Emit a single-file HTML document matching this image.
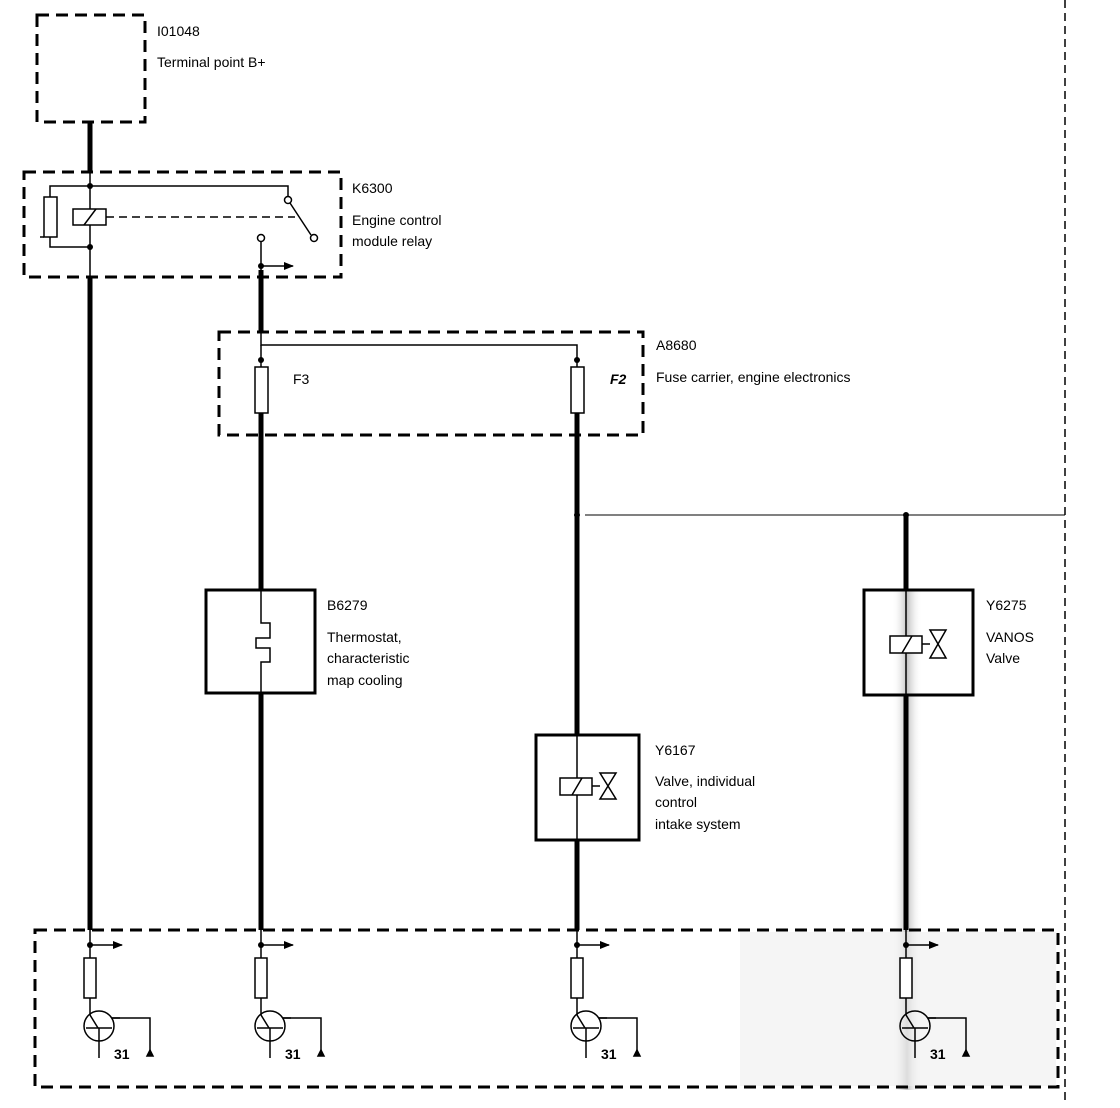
<!DOCTYPE html>
<html><head><meta charset="utf-8"><style>
body{margin:0;background:#fff}
svg{display:block}
text{font-family:"Liberation Sans",sans-serif;font-size:14px;fill:#000}
</style></head><body>
<svg width="1120" height="1108" viewBox="0 0 1120 1108" xmlns="http://www.w3.org/2000/svg">
<defs>
<marker id="ar" markerWidth="10" markerHeight="8" refX="9" refY="4" orient="auto" markerUnits="userSpaceOnUse"><path d="M0,0 L10,4 L0,8 Z" fill="#000"/></marker>
<linearGradient id="g" x1="0" x2="1"><stop offset="0" stop-color="#fff" stop-opacity="0"/><stop offset="0.5" stop-color="#999"/><stop offset="1" stop-color="#fff" stop-opacity="0"/></linearGradient>
</defs>
<rect x="892" y="590" width="30" height="500" fill="url(#g)" opacity="0.6"/>
<rect x="740" y="932" width="316" height="154" fill="#eee" opacity="0.6"/>
<g fill="none" stroke="#000" stroke-width="3" stroke-dasharray="12,7">
<rect x="37" y="15" width="108" height="107"/>
<rect x="24" y="172" width="317" height="105"/>
<rect x="219" y="332" width="424" height="103"/>
<rect x="35" y="930" width="1023" height="157"/>
</g>
<line x1="1065" y1="0" x2="1065" y2="1100" stroke="#000" stroke-width="1.5" stroke-dasharray="8,5"/>
<line x1="585" y1="515" x2="1065" y2="515" stroke="#000" stroke-width="1"/>
<!-- thick wires -->
<g stroke="#000" stroke-width="5">
<line x1="90" y1="122" x2="90" y2="172"/>
<line x1="90" y1="277" x2="90" y2="930"/>
<line x1="261" y1="270" x2="261" y2="332"/>
<line x1="261" y1="413" x2="261" y2="590"/>
<line x1="261" y1="693" x2="261" y2="930"/>
<line x1="577" y1="413" x2="577" y2="735"/>
<line x1="577" y1="840" x2="577" y2="930"/>
<line x1="906" y1="515" x2="906" y2="590"/>
<line x1="906" y1="695" x2="906" y2="930"/>
</g>
<g stroke="#000" stroke-width="1.5" fill="none">
<line x1="90" y1="172" x2="90" y2="277"/>
<polyline points="50,197 50,186 288,186 288,196"/>
<rect x="44" y="197" width="13" height="40" fill="#fff"/>
<polyline points="50,237 50,247 90,247"/>
<line x1="40" y1="237" x2="44" y2="237"/>
<rect x="73" y="209" width="33" height="16" fill="#fff"/>
<line x1="84" y1="225" x2="96" y2="209"/>
<line x1="106" y1="217" x2="295" y2="217" stroke-dasharray="8,5"/>
<line x1="290" y1="203" x2="311" y2="235"/>
<circle cx="288" cy="200" r="3.5" fill="#fff"/>
<circle cx="314" cy="238" r="3.5" fill="#fff"/>
<line x1="261" y1="242" x2="261" y2="277"/>
<circle cx="261" cy="238" r="3.5" fill="#fff"/>
<line x1="261" y1="266" x2="293" y2="266" marker-end="url(#ar)"/>
<polyline points="261,332 261,345 577,345 577,367"/>
<line x1="261" y1="345" x2="261" y2="367"/>
<rect x="255" y="367" width="13" height="46" fill="#fff"/>
<rect x="571" y="367" width="13" height="46" fill="#fff"/>
<rect x="206" y="590" width="109" height="103" stroke-width="3"/>
<polyline points="261,590 261,623 270,623 270,638 256,638 256,648 270,648 270,662 261,662 261,693"/>
<rect x="864" y="590" width="109" height="105" stroke-width="3"/>
<line x1="906" y1="590" x2="906" y2="695"/>
<rect x="890" y="636" width="32" height="17" fill="#fff"/>
<line x1="902" y1="653" x2="912" y2="636"/>
<line x1="922" y1="644" x2="930" y2="644"/>
<path d="M930,630 L946,630 L930,658 L946,658 Z"/>
<rect x="536" y="735" width="103" height="105" stroke-width="3"/>
<line x1="577" y1="735" x2="577" y2="840"/>
<rect x="560" y="778" width="32" height="17" fill="#fff"/>
<line x1="572" y1="795" x2="582" y2="778"/>
<line x1="592" y1="786" x2="600" y2="786"/>
<path d="M600,773 L616,773 L600,799 L616,799 Z"/>
</g>
<g fill="#000">
<circle cx="90" cy="186" r="3"/><circle cx="90" cy="247" r="3"/>
<circle cx="261" cy="266" r="3"/><circle cx="261" cy="360" r="3"/><circle cx="577" cy="360" r="3"/>
<circle cx="577" cy="515" r="3"/><circle cx="906" cy="515" r="3"/>
</g>
<g stroke="#000" stroke-width="1.5" fill="none">
<g id="st">
<line x1="90" y1="930" x2="90" y2="958"/>
<line x1="90" y1="945" x2="122" y2="945" marker-end="url(#ar)"/>
<rect x="84" y="958" width="12" height="40" fill="#fff"/>
<line x1="90" y1="998" x2="90" y2="1015"/>
<circle cx="99" cy="1026" r="15"/>
<line x1="86" y1="1028" x2="112" y2="1028"/>
<line x1="90" y1="1015" x2="98" y2="1028"/>
<line x1="112" y1="1018" x2="120" y2="1018"/>
<line x1="99" y1="1028" x2="99" y2="1058"/>
<polyline points="112,1018 150,1018 150,1054"/>
<path d="M147,1056 L153,1056 L150,1050 Z" fill="#000"/>
</g>
<use href="#st" x="171"/>
<use href="#st" x="487"/>
<use href="#st" x="816"/>
</g>
<g fill="#000"><circle cx="90" cy="945" r="3"/><circle cx="261" cy="945" r="3"/><circle cx="577" cy="945" r="3"/><circle cx="906" cy="945" r="3"/></g>
<g font-weight="bold">
<text x="114" y="1059">31</text><text x="285" y="1059">31</text><text x="601" y="1059">31</text><text x="930" y="1059">31</text>
</g>
<text x="157" y="36">I01048</text>
<text x="157" y="67">Terminal point B+</text>
<text x="352" y="193">K6300</text>
<text x="352" y="225">Engine control</text>
<text x="352" y="246">module relay</text>
<text x="656" y="350">A8680</text>
<text x="656" y="382">Fuse carrier, engine electronics</text>
<text x="293" y="384">F3</text>
<text x="610" y="384" font-style="italic" font-weight="bold">F2</text>
<text x="327" y="610">B6279</text>
<text x="327" y="642">Thermostat,</text>
<text x="327" y="663">characteristic</text>
<text x="327" y="685">map cooling</text>
<text x="986" y="610">Y6275</text>
<text x="986" y="642">VANOS</text>
<text x="986" y="663">Valve</text>
<text x="655" y="755">Y6167</text>
<text x="655" y="786">Valve, individual</text>
<text x="655" y="807">control</text>
<text x="655" y="829">intake system</text>
</svg>
</body></html>
